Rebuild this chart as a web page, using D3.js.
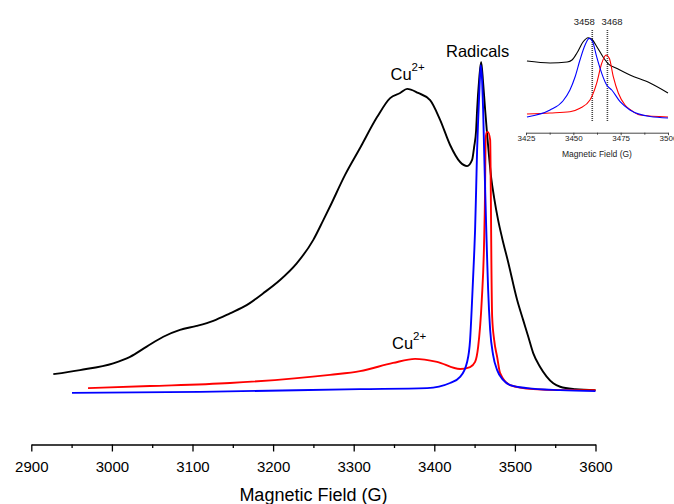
<!DOCTYPE html>
<html>
<head>
<meta charset="utf-8">
<script src="https://cdn.jsdelivr.net/npm/d3@7"></script>
<style>
  html, body { margin: 0; padding: 0; background: #fff; }
  svg { display: block; font-family: "Liberation Sans", Arial, sans-serif; }
</style>
</head>
<body>
<svg id="chart" width="674" height="504"></svg>
<script>
// ---------- DATA (field in G, intensity in arbitrary units) ----------
const mainTicks = [2900, 3000, 3100, 3200, 3300, 3400, 3500, 3600];
const mainMinorTicks = [2950, 3050, 3150, 3250, 3350, 3450, 3550];
const insetTicks = [3425, 3450, 3475, 3500];
const insetMinorTicks = [3437.5, 3462.5, 3487.5];

const mainBlack = [
  [2927.3, 7.6], [2960.4, 8.8], [3001.7, 10.8], [3022.5, 12.7], [3043.2, 15.7],
  [3063.8, 18.6], [3084.5, 20.6], [3105.2, 21.8], [3125.8, 23.3], [3146.5, 25.5],
  [3167.2, 27.9], [3187.8, 31.4], [3208.6, 35.3], [3229.3, 40.2], [3249.9, 47.1],
  [3262.3, 52.9], [3270.6, 56.9], [3289.3, 66.2], [3307.9, 74.1], [3329.0, 83.2],
  [3345.2, 88.8], [3357.6, 90.3], [3366.3, 91.5], [3379.9, 90.3], [3394.8, 88.2],
  [3407.2, 82.4], [3419.6, 75.0], [3432.0, 70.0], [3440.7, 68.8], [3446.9, 70.6],
  [3449.4, 74.4], [3451.9, 79.4], [3453.1, 85.3], [3455.6, 94.1], [3458.1, 99.4],
  [3460.6, 93.2], [3463.1, 85.3], [3465.6, 77.9], [3468.1, 71.2], [3470.6, 65.3],
  [3474.3, 59.4], [3479.2, 52.9], [3484.2, 47.6], [3491.6, 40.6], [3502.8, 29.4],
  [3510.3, 23.5], [3516.6, 18.6], [3522.7, 13.8], [3531.1, 9.8], [3539.4, 6.9],
  [3547.6, 4.9], [3556.2, 3.9], [3575.0, 3.2], [3600.0, 2.9]
];
const mainBlue = [
  [2950.5, 2.1], [3109.3, 2.4], [3307.9, 3.2], [3391.0, 3.5], [3419.6, 5.0],
  [3432.0, 6.8], [3440.7, 11.2], [3444.4, 17.6], [3446.9, 29.4], [3449.4, 42.6],
  [3450.6, 50.0], [3451.9, 61.8], [3453.1, 73.5], [3454.4, 82.4], [3456.2, 92.6],
  [3457.6, 98.5], [3459.3, 94.1], [3460.6, 85.3], [3461.8, 73.5], [3463.1, 61.8],
  [3464.3, 51.5], [3465.6, 41.2], [3466.8, 32.4], [3469.3, 20.6], [3473.0, 13.2],
  [3478.0, 8.8], [3485.4, 5.9], [3494.1, 4.4], [3515.2, 3.5], [3556.2, 2.9],
  [3600.0, 2.6]
];
const mainRed = [
  [2970.4, 3.5], [3047.3, 4.1], [3146.5, 5.0], [3270.6, 7.4], [3307.9, 8.5],
  [3348.8, 10.9], [3376.1, 12.1], [3403.4, 11.2], [3432.0, 9.1], [3444.4, 9.7],
  [3450.6, 11.2], [3454.4, 15.6], [3458.9, 29.4], [3461.7, 45.6], [3463.0, 61.8],
  [3463.6, 76.5], [3464.9, 78.8], [3466.6, 78.8], [3469.3, 76.5], [3470.2, 58.8],
  [3470.8, 41.2], [3471.8, 24.4], [3474.3, 17.6], [3478.0, 12.6], [3481.7, 7.9],
  [3494.1, 4.4], [3522.7, 3.2], [3556.2, 2.9], [3600.0, 2.9]
];

const insetBlack = [
  [3425.5, 71.1], [3437.7, 68.9], [3446.7, 70.0], [3449.3, 72.2], [3451.9, 80.0],
  [3455.1, 92.2], [3457.8, 97.0], [3459.9, 95.0], [3462.5, 86.7], [3465.7, 75.6],
  [3468.3, 68.3], [3473.1, 62.8], [3479.9, 55.6], [3490.5, 46.7], [3500.0, 35.6]
];
const insetBlue = [
  [3425.5, 8.9], [3437.7, 16.7], [3444.5, 26.7], [3448.2, 38.9], [3450.9, 53.3],
  [3453.5, 72.2], [3456.2, 88.9], [3458.4, 96.3], [3460.2, 92.6], [3462.3, 75.9],
  [3465.0, 57.4], [3467.6, 44.4], [3470.3, 38.9], [3474.7, 25.9], [3479.9, 16.7],
  [3490.5, 9.4], [3500.0, 7.8]
];
const insetRed = [
  [3425.5, 12.2], [3437.7, 13.3], [3448.2, 14.8], [3453.5, 18.6], [3458.8, 27.8],
  [3462.3, 46.3], [3465.0, 68.6], [3467.3, 77.8], [3469.0, 74.1], [3471.1, 53.7],
  [3473.8, 35.2], [3477.3, 22.2], [3479.9, 17.4], [3485.2, 11.1], [3500.0, 8.9]
];
const markerFields = [3460, 3468];
const markerLabels = ["3458", "3468"];

// ---------- DRAWING ----------
const svg = d3.select("#chart");

// main scales
const x = d3.scaleLinear().domain([2900, 3600]).range([31.3, 595.5]);
const y = d3.scaleLinear().domain([0, 100]).range([400, 60]);
const axisY = 444.5;

const lineMain = d3.line().x(d => x(d[0])).y(d => y(d[1])).curve(d3.curveMonotoneX);

const series = [
  { data: mainBlack, color: "#000000" },
  { data: mainRed, color: "#ff0000" },
  { data: mainBlue, color: "#0000ff" }
];
series.forEach(s => {
  svg.append("path")
    .datum(s.data)
    .attr("fill", "none")
    .attr("stroke", s.color)
    .attr("stroke-width", 1.9)
    .attr("stroke-linejoin", "round")
    .attr("d", lineMain);
});

// main axis
const gAxis = svg.append("g").attr("transform", `translate(0,${axisY})`);
gAxis.call(d3.axisBottom(x).tickValues(mainTicks).tickSize(7).tickSizeOuter(0).tickPadding(10).tickFormat(d3.format("d")));
gAxis.call(g => g.selectAll("text").attr("font-size", 15).attr("font-family", "Liberation Sans, Arial, sans-serif").attr("fill", "#000"));
gAxis.call(g => g.selectAll("line, path").attr("stroke", "#000").attr("stroke-width", 1.3));
const gMinor = svg.append("g").attr("transform", `translate(0,${axisY})`);
gMinor.call(d3.axisBottom(x).tickValues(mainMinorTicks).tickSize(3.5).tickSizeOuter(0).tickFormat(""));
gMinor.call(g => g.select(".domain").remove());
gMinor.call(g => g.selectAll("line").attr("stroke", "#000").attr("stroke-width", 1.3));

svg.append("text")
  .attr("x", x(3250)).attr("y", 501)
  .attr("text-anchor", "middle")
  .attr("font-size", 18)
  .text("Magnetic Field (G)");

// annotations
function cuLabel(px, py) {
  const t = svg.append("text").attr("x", px).attr("y", py).attr("font-size", 16.5);
  t.append("tspan").text("Cu");
  t.append("tspan").attr("dy", -9.5).attr("font-size", 11.5).text("2+");
}
cuLabel(390.5, 80);
cuLabel(392, 349);
svg.append("text").attr("x", 446).attr("y", 57).attr("font-size", 16.5).text("Radicals");

// ---------- INSET ----------
const xi = d3.scaleLinear().domain([3425, 3500]).range([526, 668]);
const yi = d3.scaleLinear().domain([0, 100]).range([125, 35]);
const insetAxisY = 132.7;
const lineInset = d3.line().x(d => xi(d[0])).y(d => yi(d[1])).curve(d3.curveMonotoneX);

// marker dotted lines
markerFields.forEach((f, i) => {
  svg.append("line")
    .attr("x1", xi(f)).attr("x2", xi(f))
    .attr("y1", 30).attr("y2", 122)
    .attr("stroke", "#444")
    .attr("stroke-width", 1.6)
    .attr("stroke-dasharray", "1,1");
});
svg.append("text").attr("x", xi(markerFields[0]) - 8).attr("y", 25)
  .attr("text-anchor", "middle").attr("font-size", 9.5).attr("fill", "#222").text(markerLabels[0]);
svg.append("text").attr("x", xi(markerFields[1]) + 4.6).attr("y", 25)
  .attr("text-anchor", "middle").attr("font-size", 9.5).attr("fill", "#222").text(markerLabels[1]);

[
  { data: insetBlack, color: "#000000" },
  { data: insetRed, color: "#ff0000" },
  { data: insetBlue, color: "#0000ff" }
].forEach(s => {
  svg.append("path")
    .datum(s.data)
    .attr("fill", "none")
    .attr("stroke", s.color)
    .attr("stroke-width", 1.1)
    .attr("d", lineInset);
});

const gi = svg.append("g").attr("transform", `translate(0,${insetAxisY})`);
gi.call(d3.axisBottom(xi).tickValues(insetTicks).tickSize(2.5).tickSizeOuter(0).tickPadding(0.5).tickFormat(d3.format("d")));
gi.call(g => g.selectAll("text").attr("font-size", 8).attr("font-family", "Liberation Sans, Arial, sans-serif").attr("fill", "#222"));
gi.call(g => g.selectAll("line, path").attr("stroke", "#333").attr("stroke-width", 0.9));
const giMinor = svg.append("g").attr("transform", `translate(0,${insetAxisY})`);
giMinor.call(d3.axisBottom(xi).tickValues(insetMinorTicks).tickSize(2).tickSizeOuter(0).tickFormat(""));
giMinor.call(g => g.select(".domain").remove());
giMinor.call(g => g.selectAll("line").attr("stroke", "#333").attr("stroke-width", 0.9));

svg.append("text")
  .attr("x", xi(3462.5)).attr("y", 157)
  .attr("text-anchor", "middle")
  .attr("font-size", 8.5)
  .attr("fill", "#222")
  .text("Magnetic Field (G)");
</script>
</body>
</html>
